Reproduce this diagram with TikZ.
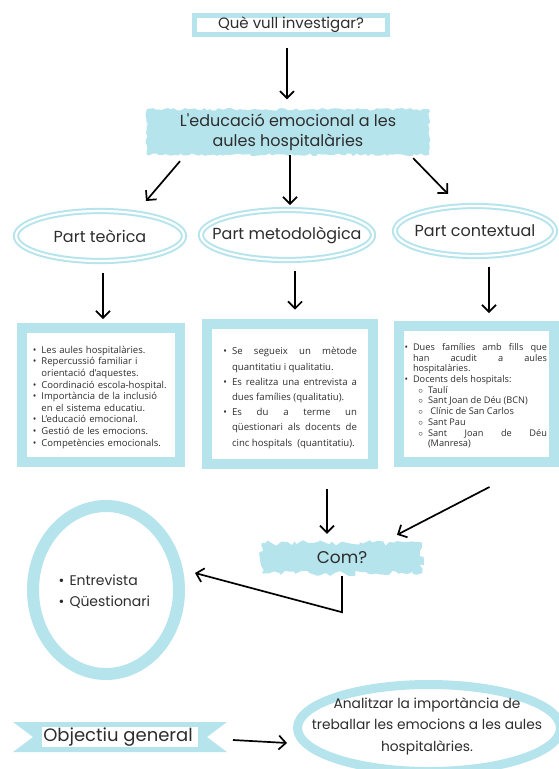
\documentclass[tikz,border=0pt]{standalone}
\usepackage{fontspec}
\setmainfont{Open Sans}
\newfontfamily\titolfont{Poppins}
\usepackage{enumitem}
\setlist[itemize]{nosep,leftmargin=9pt,label=\textbullet}
\hyphenpenalty=10000
\exhyphenpenalty=10000
\usetikzlibrary{arrows.meta,shapes.geometric,decorations.pathmorphing,backgrounds}
\definecolor{blau}{RGB}{182,228,236}
\definecolor{tinta}{RGB}{45,45,45}
\tikzset{
  titular/.style={font=\titolfont\fontsize{16}{20}\selectfont,text=tinta,align=center},
  part/.style={titular,ellipse,draw=blau,line width=2pt,double=white,double distance=2.2pt,inner xsep=-14pt,inner ysep=0pt,minimum height=50},
  caixa/.style={draw=blau,line width=10pt,text=tinta},
  anella/.style={ellipse,draw=blau,inner sep=0pt},
  fletxa/.style={-{Straight Barb[length=7pt,width=14pt]},line width=1.7pt},
  pinzell/.style={fill=blau,decorate,decoration={random steps,segment length=3pt,amplitude=1.3pt}}
}
\begin{document}
\begin{tikzpicture}[x=1pt,y=-1pt]
  \pgfmathsetseed{7}
  \useasboundingbox (0,0) rectangle (558,769);
  \node[titular,font=\titolfont\fontsize{15}{18}\selectfont,draw=blau,line width=5pt,minimum width=193,minimum height=19,inner sep=1pt] (pregunta) at (291,25) {Què vull investigar?};
  \node[titular,minimum width=282,minimum height=45] (tema) at (288,132)
    {L'educació emocional a les\\aules hospitalàries};
  \node[part,minimum width=168] (teorica) at (100,236) {Part teòrica};
  \node[part,minimum width=172] (metodologica) at (287,235) {Part metodològica};
  \node[part,minimum width=160] (contextual) at (475,231) {Part contextual};
  \node[caixa,text width=137,inner sep=10.5pt,minimum height=134,align=left,font=\fontsize{9.5}{11.6}\selectfont] (caixa1) at (101,395)
    {\begin{itemize}
      \item Les aules hospitalàries.
      \item Repercussió familiar i orientació d'aquestes.
      \item Coordinació escola-hospital.
      \item Importància de la inclusió en el sistema educatiu.
      \item L'educació emocional.
      \item Gestió de les emocions.
      \item Competències emocionals.
    \end{itemize}};
  \node[caixa,text width=134,inner sep=16pt,minimum height=134,align=justify,font=\fontsize{9.6}{15.2}\selectfont] (caixa2) at (290,394)
    {\begin{itemize}
      \item Se segueix un mètode quantitatiu i qualitatiu.
      \item Es realitza una entrevista a dues famílies (qualitatiu).
      \item Es du a terme un qüestionari als docents de cinc hospitals \ (quantitatiu).
    \end{itemize}};
  \node[caixa,text width=142,inner sep=6.5pt,minimum height=136,align=justify,font=\fontsize{9.2}{10.7}\selectfont] (caixa3) at (476,394)
    {\begin{itemize}[leftmargin=8pt]
      \item Dues famílies amb fills que\linebreak han acudit a aules\linebreak hospitalàries.
      \item Docents dels hospitals:
      \begin{itemize}[label=$\circ$,leftmargin=15pt]
        \item Taulí
        \item Sant Joan de Déu (BCN)
        \item \ Clínic de San Carlos
        \item Sant Pau
        \item Sant Joan de Déu\linebreak (Manresa)
      \end{itemize}
    \end{itemize}};
  \node[titular,font=\titolfont\fontsize{17}{20}\selectfont,minimum width=160,minimum height=30] (com) at (342,558) {Com?};
  \node[anella,line width=12pt,minimum width=146,minimum height=168] (cercle) at (106,590) {};
  \node[titular,text width=95,align=left,font=\titolfont\fontsize{14}{21}\selectfont] (metodes) at (104,586)
    {\begin{itemize}[leftmargin=13pt]
      \item Entrevista
      \item Qüestionari
    \end{itemize}};
  \node[titular,font=\titolfont\fontsize{18}{22}\selectfont] (objectiu) at (118,737) {Objectiu general};
  \node[anella,line width=9pt,minimum width=263,minimum height=87] (vora) at (429,728) {};
  \node[titular,font=\titolfont\fontsize{13.8}{21.5}\selectfont] (analitzar) at (427,726)
    {Analitzar la importància de\\treballar les emocions a les aules\\hospitalàries.};
  \begin{pgfonlayer}{background}
    \fill[pinzell] (tema.south west) rectangle (tema.north east);
    \fill[pinzell,decoration={random steps,segment length=4pt,amplitude=3pt}] (com.south west) rectangle (com.north east);
    \fill[blau] (13,722) -- (227,722) -- (207,737) -- (227,752) -- (13,752) -- (33,737) -- cycle;
    \fill[white] (42,727) rectangle (198,747);
  \end{pgfonlayer}
  \draw[fletxa,shorten <=11,shorten >=10] ([xshift=-4]pregunta.south) -- ([xshift=-4]pregunta.south |- tema.north);
  \draw[fletxa] ([xshift=-108,yshift=-6.5]tema.south) -- ([xshift=46,yshift=9]teorica.north);
  \draw[fletxa,shorten >=4] ([xshift=2]tema.south) -- ([xshift=3]metodologica.north);
  \draw[fletxa] ([xshift=-16,yshift=-3.5]tema.south east) -- ([xshift=-27,yshift=11]contextual.north);
  \draw[fletxa,shorten <=11,shorten >=4] ([xshift=3]teorica.south) -- ([xshift=3]teorica.south |- caixa1.north);
  \draw[fletxa,shorten <=10,shorten >=9] ([xshift=8]metodologica.south) -- ([xshift=8]metodologica.south |- caixa2.north);
  \draw[fletxa,shorten <=10,shorten >=8] ([xshift=14]contextual.south) -- ([xshift=14]contextual.south |- caixa3.north);
  \draw[fletxa,shorten <=20,shorten >=9] ([xshift=37]caixa2.south) -- ([xshift=37]caixa2.south |- com.north);
  \draw[fletxa] ([xshift=13.5,yshift=-20]caixa3.south) -- ([xshift=55,yshift=8]com.north);
  \draw[fletxa] ([yshift=-3]com.south) -- ++(0,36) -- ([xshift=10,yshift=17]cercle.east);
  \draw[fletxa] ([xshift=115,yshift=-3]objectiu.center) -- ([xshift=-6,yshift=-15]vora.west);
\end{tikzpicture}
\end{document}
